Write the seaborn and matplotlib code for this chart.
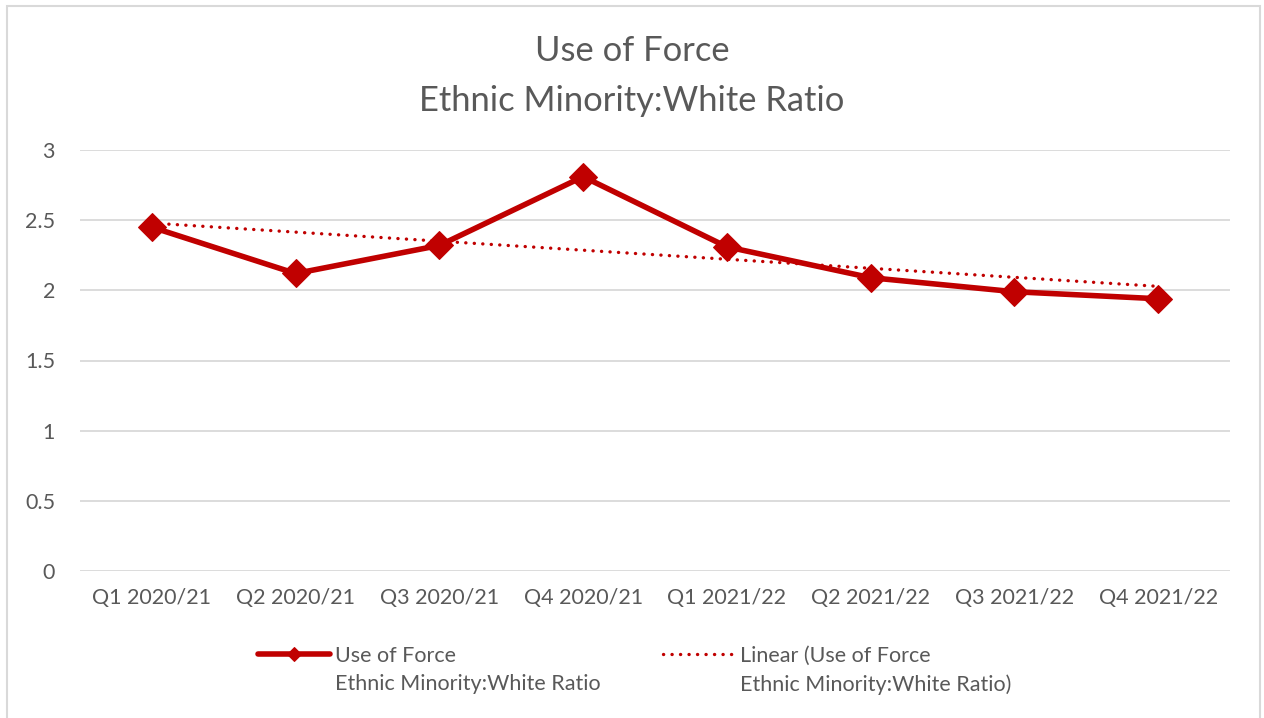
import numpy as np
import pandas as pd
import matplotlib
matplotlib.use("Agg")
import matplotlib.pyplot as plt
from matplotlib.patches import Rectangle
import seaborn as sns

# ---- data ----
quarters = ["Q1 2020/21", "Q2 2020/21", "Q3 2020/21", "Q4 2020/21",
            "Q1 2021/22", "Q2 2021/22", "Q3 2021/22", "Q4 2021/22"]
ratio = [2.45, 2.12, 2.32, 2.81, 2.31, 2.09, 1.99, 1.94]
y_ticks = [0, 0.5, 1, 1.5, 2, 2.5, 3]
y_tick_labels = ["0", "0.5", "1", "1.5", "2", "2.5", "3"]
series_name = "Use of Force"
series_name2 = "Ethnic Minority:White Ratio"
trend_name = "Linear (Use of Force"
trend_name2 = "Ethnic Minority:White Ratio)"
title = "Use of Force\nEthnic Minority:White Ratio"

df = pd.DataFrame({"pos": np.arange(len(quarters)), "quarter": quarters, "ratio": ratio})

sns.set_theme(style="white")
FONT = ["Lato", "DejaVu Sans"]
plt.rcParams["font.family"] = FONT
TXT = "#595959"
RED = "#C00000"
GRID = "#D9D9D9"
FS = 15.5

fig = plt.figure(figsize=(12.64, 7.18), dpi=100)
ax = fig.add_axes([80 / 1264, 1 - 571 / 718, 1150 / 1264, 421 / 718])

# trend line (linear regression of the series)
sns.regplot(data=df, x="pos", y="ratio", ax=ax, scatter=False, ci=None,
            truncate=True, label=trend_name,
            line_kws=dict(color=RED, lw=2.4, linestyle=(0, (0.05, 2.5)),
                          dash_capstyle="round", zorder=3))
trend_line = ax.lines[-1]

sns.lineplot(data=df, x="pos", y="ratio", ax=ax, color=RED, lw=4.0,
             marker="D", markersize=14.5, markeredgecolor=RED, markerfacecolor=RED,
             label=series_name, zorder=4)
main_line = ax.lines[-1]

ax.set_xlim(-0.5, len(quarters) - 0.5)
ax.set_ylim(0, 3)
ax.set_yticks(y_ticks)
ax.set_yticklabels(y_tick_labels)
ax.set_xticks(df["pos"])
ax.set_xticklabels(quarters)
ax.set_xlabel("")
ax.set_ylabel("")
for s in ax.spines.values():
    s.set_visible(False)
ax.grid(axis="y", color=GRID, lw=1.3)
ax.grid(axis="x", visible=False)
ax.set_axisbelow(True)
ax.tick_params(axis="both", length=0, labelsize=FS, labelcolor=TXT)
ax.tick_params(axis="y", pad=18)
ax.tick_params(axis="x", pad=12)
if ax.get_legend() is not None:
    ax.get_legend().remove()

fig.text(0.5, 1 - 76 / 718, title, ha="center", va="center",
         fontsize=24.8, color=TXT, linespacing=1.68)

# legend: two entries, each with a two-line label
leg_kw = dict(loc="center left", frameon=False, fontsize=FS, borderpad=0,
              borderaxespad=0, handlelength=3.35, handletextpad=0.23,
              labelcolor=TXT)
leg1 = fig.legend([main_line], [series_name],
                  bbox_to_anchor=(258 / 1264, 1 - 656 / 718), **leg_kw)
leg2 = fig.legend([trend_line], [trend_name],
                  bbox_to_anchor=(663 / 1264, 1 - 656 / 718), **leg_kw)
leg1.legend_handles[0].set_markersize(7)

fig.canvas.draw()
inv = fig.transFigure.inverted()
for lg, second in zip([leg1, leg2], [series_name2, trend_name2]):
    t = lg.get_texts()[0]
    bb = t.get_window_extent()
    x0, yc = inv.transform((bb.x0, (bb.y0 + bb.y1) / 2))
    fig.text(x0, yc - 28.5 / 718, second,
             ha="left", va="center", fontsize=FS, color=TXT)

# chart border
fig.patches.append(Rectangle((7 / 1264, -0.02), 1253 / 1264, (718 - 6) / 718 + 0.02,
                             transform=fig.transFigure, fill=False,
                             edgecolor=GRID, lw=1.5, zorder=0))

fig.savefig("out.png", dpi=100)
